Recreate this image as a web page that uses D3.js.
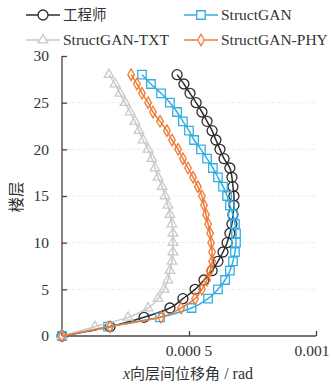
<!DOCTYPE html>
<html>
<head>
<meta charset="utf-8">
<script src="https://cdn.jsdelivr.net/npm/d3@7"></script>
<style>
  body { margin: 0; background: #fff; }
  text { font-family: "Liberation Serif", "Times New Roman", serif; }
  .cjk { font-family: "Noto Sans CJK SC", sans-serif; }
</style>
</head>
<body>
<svg id="chart" width="331" height="385"></svg>
<script>
const floors = d3.range(0, 29);

// x 向层间位移角 (rad), floor 0..28
const engineer = [0, 0.000189, 0.000323, 0.000425, 0.000476, 0.000524, 0.000559, 0.000591, 0.000614, 0.000634,
  0.00065, 0.000661, 0.000669, 0.000673, 0.000677, 0.000677, 0.000673, 0.000669, 0.000661, 0.000638,
  0.000622, 0.000606, 0.000591, 0.000571, 0.000551, 0.000528, 0.000504, 0.00048, 0.000453];
const structGAN = [0, 0.000181, 0.000386, 0.00051, 0.000575, 0.000614, 0.000642, 0.000661, 0.000673, 0.000681,
  0.000685, 0.000685, 0.000681, 0.000673, 0.000661, 0.00065, 0.000634, 0.000614, 0.000594, 0.000571,
  0.000547, 0.00052, 0.0005, 0.000476, 0.000453, 0.000425, 0.00039, 0.00035, 0.000315];
const structTXT = [0, 0.00013, 0.00026, 0.000339, 0.000378, 0.000402, 0.000417, 0.000425, 0.000433, 0.000437,
  0.000437, 0.000437, 0.000433, 0.000425, 0.000417, 0.000406, 0.000394, 0.000378, 0.000366, 0.000354,
  0.000339, 0.000319, 0.000303, 0.000287, 0.000268, 0.000248, 0.000228, 0.000209, 0.000185];
const structPHY = [0, 0.000189, 0.00039, 0.000469, 0.000524, 0.000551, 0.000571, 0.000583, 0.000591, 0.000591,
  0.000587, 0.000583, 0.000575, 0.000567, 0.000559, 0.000551, 0.000535, 0.000516, 0.000496, 0.000476,
  0.000457, 0.000433, 0.000413, 0.000386, 0.000358, 0.000339, 0.000315, 0.000295, 0.000272];

const yTicks = [0, 5, 10, 15, 20, 25, 30];
const xTicks = [0.0005, 0.001];
const xTickLabels = ['0.000 5', '0.001'];

const series = [
  { name: '工程师', values: engineer, color: '#2e2e2e', symbol: d3.symbolCircle, size: 78 },
  { name: 'StructGAN', values: structGAN, color: '#33aee3', symbol: d3.symbolSquare, size: 72 },
  { name: 'StructGAN-TXT', values: structTXT, color: '#c9c9c9', symbol: d3.symbolTriangle, size: 40 },
  { name: 'StructGAN-PHY', values: structPHY, color: '#f07a34', symbol: d3.symbolDiamond, size: 38 }
];

const svg = d3.select('#chart');
const plotLeft = 62, plotRight = 316, plotTop = 56, plotBottom = 336;

const xScale = d3.scaleLinear().domain([0, 0.001]).range([plotLeft, plotRight]);
const yScale = d3.scaleLinear().domain([0, 30]).range([plotBottom, plotTop]);

// faint grid
svg.append('g')
  .selectAll('line')
  .data(yTicks.filter(d => d > 0 && d < 30))
  .enter()
  .append('line')
  .attr('x1', plotLeft)
  .attr('x2', plotRight)
  .attr('y1', d => yScale(d))
  .attr('y2', d => yScale(d))
  .attr('stroke', '#ececec')
  .attr('stroke-width', 1)
  .attr('stroke-dasharray', '3,2');

// axes
const yAxis = svg.append('g')
  .attr('transform', `translate(${plotLeft}, 0)`)
  .call(d3.axisRight(yScale).tickValues(yTicks).tickSize(5).tickFormat(''));
yAxis.select('.domain').attr('d', `M0,${plotTop}V${plotBottom}`);

const xAxis = svg.append('g')
  .attr('transform', `translate(0, ${plotBottom})`)
  .call(d3.axisTop(xScale).tickValues(xTicks).tickSize(5).tickFormat(''));
xAxis.select('.domain').attr('d', `M${plotLeft},0H${plotRight}`);

svg.selectAll('.domain, .tick line')
  .attr('stroke', '#444')
  .attr('stroke-width', 1.3);

svg.append('g')
  .selectAll('text')
  .data(yTicks)
  .enter()
  .append('text')
  .attr('x', 49)
  .attr('y', d => yScale(d))
  .attr('dy', '0.35em')
  .attr('text-anchor', 'end')
  .attr('font-size', 15.5)
  .attr('fill', '#333')
  .text(d => d);

svg.append('g')
  .selectAll('text')
  .data(xTicks)
  .enter()
  .append('text')
  .attr('x', d => xScale(d))
  .attr('dx', (d, i) => i === xTicks.length - 1 ? -4 : 0)
  .attr('y', 356)
  .attr('text-anchor', 'middle')
  .attr('font-size', 15.5)
  .attr('fill', '#333')
  .text((d, i) => xTickLabels[i]);

// axis titles
const xTitle = svg.append('text')
  .attr('x', 188)
  .attr('y', 379)
  .attr('text-anchor', 'middle')
  .attr('font-size', 16)
  .attr('fill', '#333');
xTitle.append('tspan').attr('font-style', 'italic').text('x');
xTitle.append('tspan').attr('class', 'cjk').attr('font-size', 15).text('向层间位移角');
xTitle.append('tspan').text(' / rad');

svg.append('text')
  .attr('class', 'cjk')
  .attr('transform', 'translate(22, 197) rotate(-90)')
  .attr('text-anchor', 'middle')
  .attr('font-size', 15.5)
  .attr('fill', '#333')
  .text('楼层');

// series
const line = d3.line()
  .x(d => xScale(d))
  .y((d, i) => yScale(floors[i]))
  .curve(d3.curveMonotoneY);

series.forEach(s => {
  const g = svg.append('g');
  g.append('path')
    .attr('d', line(s.values))
    .attr('fill', 'none')
    .attr('stroke', s.color)
    .attr('stroke-width', 1.5);
  g.selectAll('path.m')
    .data(s.values)
    .enter()
    .append('path')
    .attr('class', 'm')
    .attr('transform', (d, i) => `translate(${xScale(d)}, ${yScale(floors[i])})`)
    .attr('d', d3.symbol().type(s.symbol).size(s.size))
    .attr('fill', 'none')
    .attr('stroke', s.color)
    .attr('stroke-width', 1.3);
});

// legend
const legendPos = [[26, 15], [184, 15], [26, 40], [184, 40]];
series.forEach((s, i) => {
  const [lx, ly] = legendPos[i];
  const g = svg.append('g').attr('transform', `translate(${lx}, ${ly})`);
  g.append('line')
    .attr('x1', 0).attr('x2', 34)
    .attr('y1', 0).attr('y2', 0)
    .attr('stroke', s.color)
    .attr('stroke-width', 1.5);
  g.append('path')
    .attr('transform', 'translate(17, 0)')
    .attr('d', d3.symbol().type(s.symbol).size(s.size))
    .attr('fill', '#fff')
    .attr('stroke', s.color)
    .attr('stroke-width', 1.3);
  g.append('text')
    .attr('class', i === 0 ? 'cjk' : null)
    .attr('x', 37)
    .attr('y', 0)
    .attr('dy', '0.35em')
    .attr('font-size', i === 0 ? 14.5 : 15.5)
    .attr('fill', '#333')
    .text(s.name);
});
</script>
</body>
</html>
